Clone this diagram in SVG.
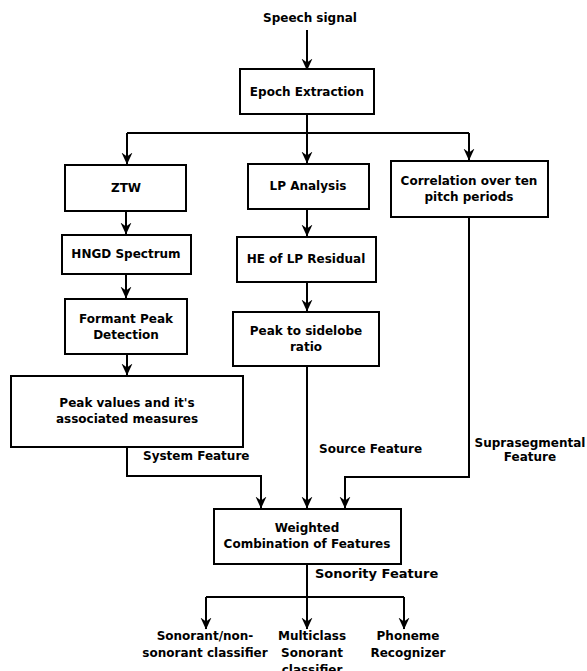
<svg xmlns="http://www.w3.org/2000/svg" width="587" height="671" viewBox="0 0 587 671">
<style>
text{font-family:"DejaVu Sans","Liberation Sans",sans-serif;font-weight:bold;font-size:12px;fill:#000;text-anchor:middle}
.l{text-anchor:start}
.big{font-size:13px}
.b{fill:#fff;stroke:#000;stroke-width:2}
.c path{fill:none;stroke:#000;stroke-width:2}
</style>
<defs>
<marker id="a" viewBox="0 0 12 12" refX="11.5" refY="6" markerWidth="12" markerHeight="12" markerUnits="userSpaceOnUse" orient="auto">
<path d="M0,0.5 L12,6 L0,11.5 L4,6 Z" fill="#000"/>
</marker>
</defs>
<rect width="587" height="671" fill="#fff"/>
<g class="c" id="connectors">
<path d="M307,30 V70" marker-end="url(#a)"/>
<path d="M307,114 V133"/>
<path d="M127,133 H469"/>
<path d="M127,133 V164" marker-end="url(#a)"/>
<path d="M307,133 V163" marker-end="url(#a)"/>
<path d="M469,133 V160" marker-end="url(#a)"/>
<path d="M126,211 V234" marker-end="url(#a)"/>
<path d="M126,274 V298" marker-end="url(#a)"/>
<path d="M127,354 V375" marker-end="url(#a)"/>
<path d="M307,209 V236" marker-end="url(#a)"/>
<path d="M307,282 V311" marker-end="url(#a)"/>
<path d="M127,447 V476 H261 V508" marker-end="url(#a)"/>
<path d="M307,366 V508" marker-end="url(#a)"/>
<path d="M469,217 V477 H345 V508" marker-end="url(#a)"/>
<path d="M307,564 V597"/>
<path d="M206,597 H404"/>
<path d="M206,597 V629" marker-end="url(#a)"/>
<path d="M307,597 V629" marker-end="url(#a)"/>
<path d="M404,597 V629" marker-end="url(#a)"/>
</g>
<g id="speech"><text x="310" y="22">Speech signal</text></g>
<g id="epoch"><rect class="b" x="240" y="69" width="134" height="45"/><text x="307" y="96">Epoch Extraction</text></g>
<g id="ztw"><rect class="b" x="65" y="165" width="121" height="46"/><text x="126" y="192">ZTW</text></g>
<g id="hngd"><rect class="b" x="62" y="235" width="129" height="39"/><text x="126" y="258">HNGD Spectrum</text></g>
<g id="formant"><rect class="b" x="65" y="299" width="122" height="55"/><text x="126" y="323">Formant Peak</text><text x="126" y="339">Detection</text></g>
<g id="peakvalues"><rect class="b" x="11" y="376" width="232" height="71"/><text x="127" y="407">Peak values and it's</text><text x="127" y="423">associated measures</text></g>
<g id="lp"><rect class="b" x="248" y="164" width="121" height="45"/><text x="308" y="190">LP Analysis</text></g>
<g id="he"><rect class="b" x="237" y="237" width="139" height="45"/><text x="306" y="263">HE of LP Residual</text></g>
<g id="psr"><rect class="b" x="233" y="312" width="146" height="54"/><text x="306" y="335">Peak to sidelobe</text><text x="306" y="351">ratio</text></g>
<g id="corr"><rect class="b" x="391" y="161" width="157" height="56"/><text x="469" y="185">Correlation over ten</text><text x="469" y="201">pitch periods</text></g>
<g id="labels">
<text class="l" x="143" y="460">System Feature</text>
<text class="l" x="319" y="453">Source Feature</text>
<text x="530" y="447">Suprasegmental</text>
<text x="530" y="461">Feature</text>
<text class="l big" x="315" y="578">Sonority Feature</text>
</g>
<g id="weighted"><rect class="b" x="214" y="509" width="187" height="55"/><text x="307" y="532">Weighted</text><text x="307" y="548">Combination of Features</text></g>
<g id="sonorant"><text x="205" y="640">Sonorant/non-</text><text x="205" y="657">sonorant classifier</text></g>
<g id="multiclass"><text x="312" y="640">Multiclass</text><text x="312" y="657">Sonorant</text><text x="312" y="674">classifier</text></g>
<g id="phoneme"><text x="408" y="640">Phoneme</text><text x="408" y="657">Recognizer</text></g>
</svg>
